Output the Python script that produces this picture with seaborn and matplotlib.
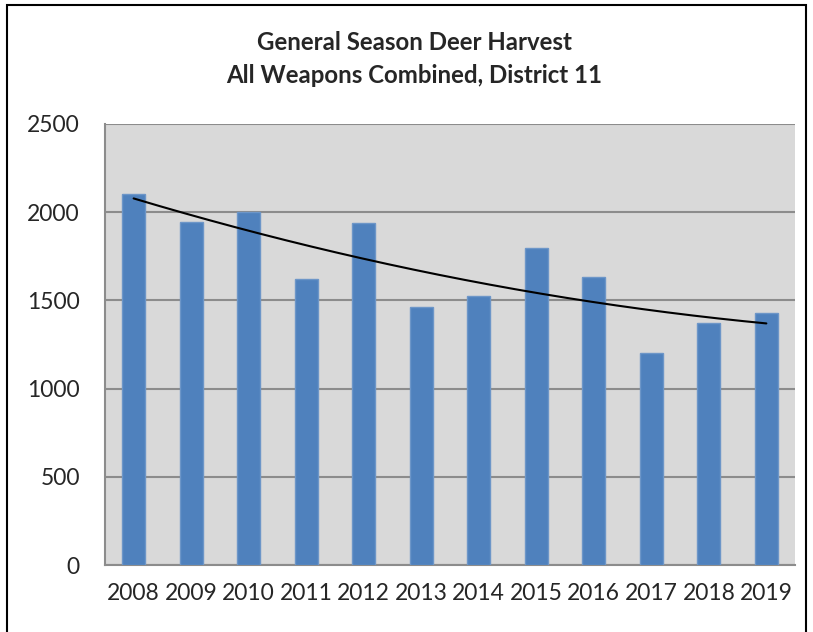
import numpy as np
import pandas as pd
import matplotlib
matplotlib.use("Agg")
import matplotlib.pyplot as plt
import seaborn as sns

# Data
years = ["2008", "2009", "2010", "2011", "2012", "2013",
         "2014", "2015", "2016", "2017", "2018", "2019"]
harvest = [2100, 1943, 2000, 1620, 1937, 1461, 1525, 1797, 1633, 1200, 1370, 1430]
y_ticks = [0, 500, 1000, 1500, 2000, 2500]

df = pd.DataFrame({"Year": years, "Harvest": harvest})

sns.set_style("white")
plt.rcParams["font.family"] = ["Lato", "DejaVu Sans"]

fig = plt.figure(figsize=(8.13, 6.32), dpi=100)
ax = fig.add_axes([0.129, 0.106, 0.849, 0.698])
ax.set_facecolor("#d9d9d9")

sns.barplot(data=df, x="Year", y="Harvest", color="#4f81bd", width=0.4,
            edgecolor="#6d96c8", linewidth=1, saturation=1, ax=ax, zorder=3)

# Excel-style 2nd order polynomial trendline
pos = np.arange(len(years))
coef = np.polyfit(pos, harvest, 2)
xs = np.linspace(pos[0], pos[-1], 200)
ax.plot(xs, np.polyval(coef, xs), color="black", linewidth=1.5, zorder=4)

ax.set_ylim(0, 2500)
ax.set_xlim(-0.5, len(years) - 0.5)
ax.set_yticks(y_ticks)
ax.yaxis.grid(True, color="#8c8c8c", linewidth=1.5, zorder=1)
ax.set_axisbelow(True)
ax.set_xlabel("")
ax.set_ylabel("")
ax.tick_params(axis="both", length=0, labelsize=16.5)
ax.tick_params(axis="y", pad=18)
ax.tick_params(axis="x", pad=13)
for lbl in ax.get_yticklabels():
    lbl.set_horizontalalignment("right")

for side in ["left", "bottom"]:
    ax.spines[side].set_color("#8c8c8c")
    ax.spines[side].set_linewidth(1.5)
for side in ["top", "right"]:
    ax.spines[side].set_visible(False)

fig.text(0.51, 0.932, "General Season Deer Harvest", ha="center", va="center",
         fontsize=17.3, fontweight="bold")
fig.text(0.51, 0.881, "All Weapons Combined, District 11", ha="center", va="center",
         fontsize=17.3, fontweight="bold")

# outer frame of the chart box
fig.add_artist(plt.Rectangle((0.009, -0.01), 0.982, 1.002, transform=fig.transFigure,
                             fill=False, edgecolor="black", linewidth=1.5))

fig.savefig("out.png", dpi=100)
